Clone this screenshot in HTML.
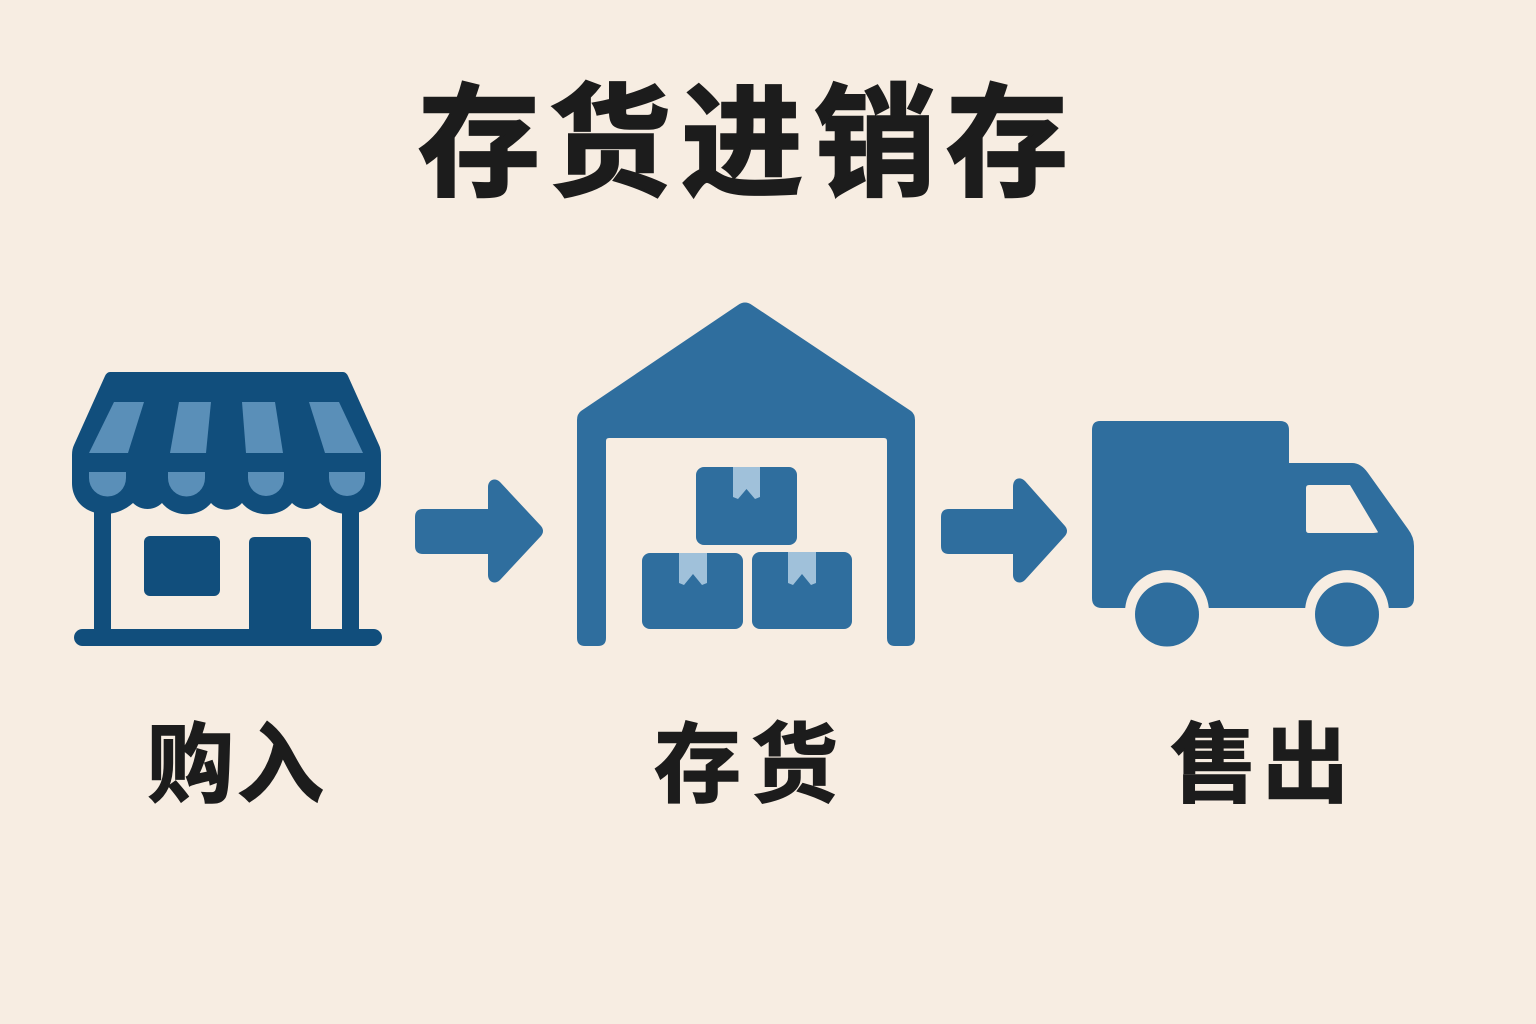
<!DOCTYPE html>
<html lang="zh">
<head>
<meta charset="utf-8">
<title>存货进销存</title>
<style>
html,body{margin:0;padding:0;background:#f7ede2;}
svg{display:block;}
text{font-family:"Liberation Sans","Noto Sans CJK SC",sans-serif;font-weight:700;fill:#1c1c1c;stroke:#1c1c1c;stroke-linejoin:miter;}
</style>
</head>
<body>
<svg xmlns="http://www.w3.org/2000/svg" width="1536" height="1024" viewBox="0 0 1536 1024">
<rect width="1536" height="1024" fill="#f7ede2"/>

<text x="418 549 681 814 946" y="186" font-size="122" stroke-width="2.5">存货进销存</text>

<!-- Store -->
<g fill="#114e7c">
  <path d="M110 372H343Q346 372 348 376L379 445Q381 449 381 455V483C381 500 368 514 348 514C338 514 328 510 320 503C312 511 300 511 292 503C280 518 254 518 242 503C234 512 219 512 211 503C199 518 174 518 162 503C154 511 141 511 133 503C125 510 115 514 105 514C85 514 72 500 72 483V455Q72 449 74 445L105 376Q107 372 110 372Z"/>
  <rect x="94" y="500" width="17" height="135"/>
  <rect x="342" y="500" width="17" height="135"/>
  <rect x="74" y="629" width="308" height="17" rx="8.500"/>
  <rect x="144" y="536" width="76" height="60" rx="6"/>
  <path d="M249 543Q249 537 255 537H305Q311 537 311 543V632H249Z"/>
</g>
<g fill="#5a8fb8">
  <path d="M114 402H144L128 453H89Z"/>
  <path d="M179 402H211L206 453H170Z"/>
  <path d="M242 402H275L283 453H246Z"/>
  <path d="M309 402H339L363 453H325Z"/>
  <path d="M89 472H126V478A18.500 18.500 0 0 1 89 478Z"/>
  <path d="M168 472H205V478A18.500 18.500 0 0 1 168 478Z"/>
  <path d="M248 472H284V478A18 18 0 0 1 248 478Z"/>
  <path d="M329 472H365V478A18 18 0 0 1 329 478Z"/>
</g>

<!-- Arrows -->
<g fill="#2f6e9e">
  <path d="M423 509H488V487C488 480 495 477 500 482L541 526Q545 531 541 536L500 580C495 585 488 582 488 575V554H423Q415 554 415 546V517Q415 509 423 509Z"/>
  <path d="M949 509H1013V487C1013 478 1020 476 1025 481L1065 526Q1069 531 1065 536L1025 580C1020 585 1013 582 1013 575V554H949Q941 554 941 546V517Q941 509 949 509Z"/>

  <!-- Warehouse -->
  <path d="M738 305Q745 300 752 305L911 411Q915 414 915 420V638Q915 646 907 646H895Q887 646 887 638V441Q887 438 884 438H609Q606 438 606 441V638Q606 646 598 646H585Q577 646 577 638V420Q577 414 581 411Z"/>
  <rect x="696" y="467" width="101" height="78" rx="8"/>
  <rect x="642" y="553" width="101" height="76" rx="8"/>
  <rect x="752" y="552" width="100" height="77" rx="8"/>

  <!-- Truck -->
  <path d="M1100 421H1280Q1289 421 1289 430V463H1352Q1361 463 1368 473L1408 529Q1414 537 1414 546V598Q1414 608 1404 608H1388.800A42 42 0 0 0 1305.200 608H1208.800A42 42 0 0 0 1125.200 608H1102Q1092 608 1092 598V430Q1092 421 1100 421Z"/>
  <circle cx="1167" cy="614.500" r="32"/>
  <circle cx="1347" cy="614.500" r="32"/>
</g>
<path d="M1309 485H1350L1378 532Q1378 533 1370 533H1309Q1306 533 1306 530V488Q1306 485 1309 485Z" fill="#f7ede2"/>
<g fill="#a0c1da">
  <path d="M733 467H760V497L755 499L746.500 489L738 499L733 497Z"/>
  <path d="M679 553H707V583L702 585L693 574L684 585L679 583Z"/>
  <path d="M788 552H816V583L811 585L802 574L793 585L788 583Z"/>
</g>

<text x="147 237" y="795" font-size="87" stroke-width="1.500">购入</text>
<text x="654 751" y="795" font-size="87" stroke-width="1.500">存货</text>
<text x="1170 1262" y="795" font-size="87" stroke-width="1.500">售出</text>
</svg>
</body>
</html>
